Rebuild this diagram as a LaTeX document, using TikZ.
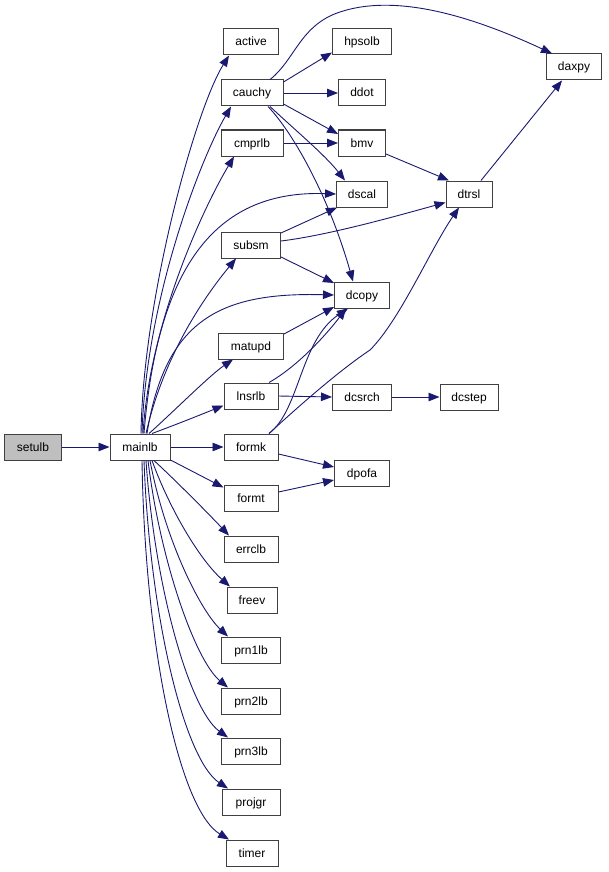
\documentclass[tikz,border=0pt]{standalone}
\usepackage{fontspec}
\setmainfont{Liberation Sans}
\usetikzlibrary{arrows.meta}
\definecolor{edgecol}{HTML}{191970}
\definecolor{bordercol}{HTML}{404040}
\definecolor{rootfill}{HTML}{BFBFBF}
\begin{document}
\begin{tikzpicture}[x=1pt,y=-1pt,
  fn/.style={draw=bordercol, line width=1pt, fill=white, rectangle, minimum height=26pt, inner sep=0pt, text height=10pt, text depth=2pt, font=\fontsize{12}{14}\selectfont},
  e/.style={draw=edgecol, line width=0.9pt, -{Triangle[length=11pt,width=8.5pt]}}]
\useasboundingbox (0,0) rectangle (608,872);
% nodes
\node[fn, fill=rootfill, minimum width=57pt] (setulb) at (33,447) {setulb};
\node[fn, minimum width=60pt] (mainlb) at (140,447) {mainlb};
\node[fn, minimum width=55pt] (active) at (251,42) {active};
\node[fn, minimum width=62pt] (cauchy) at (252,93) {cauchy};
\node[fn, minimum width=62pt] (cmprlb) at (252,143) {cmprlb};
\node[fn, minimum width=59pt] (subsm) at (251,245) {subsm};
\node[fn, minimum width=65pt] (matupd) at (251,346) {matupd};
\node[fn, minimum width=54pt] (lnsrlb) at (251,396) {lnsrlb};
\node[fn, minimum width=54pt] (formk) at (251,447) {formk};
\node[fn, minimum width=54pt] (formt) at (251,498) {formt};
\node[fn, minimum width=54pt] (errclb) at (251,549) {errclb};
\node[fn, minimum width=50pt] (freev) at (252,600) {freev};
\node[fn, minimum width=59pt] (prn1lb) at (251,650) {prn1lb};
\node[fn, minimum width=59pt] (prn2lb) at (251,701) {prn2lb};
\node[fn, minimum width=59pt] (prn3lb) at (251,751) {prn3lb};
\node[fn, minimum width=58pt] (projgr) at (251,802) {projgr};
\node[fn, minimum width=52pt] (timer) at (252,853) {timer};
\node[fn, minimum width=59pt] (hpsolb) at (362,42) {hpsolb};
\node[fn, minimum width=47pt] (ddot) at (362,93) {ddot};
\node[fn, minimum width=47pt] (bmv) at (362,143) {bmv};
\node[fn, minimum width=51pt] (dscal) at (362,194) {dscal};
\node[fn, minimum width=55pt] (dcopy) at (362,295) {dcopy};
\node[fn, minimum width=59pt] (dcsrch) at (362,397) {dcsrch};
\node[fn, minimum width=55pt] (dpofa) at (362,473) {dpofa};
\node[fn, minimum width=46pt] (dtrsl) at (469,194) {dtrsl};
\node[fn, minimum width=58pt] (dcstep) at (469,397) {dcstep};
\node[fn, minimum width=55pt] (daxpy) at (574,67) {daxpy};
% edges
\draw[e] (setulb.east) -- (mainlb.west);
\draw[e] ([xshift=1]mainlb.north) .. controls (143,300) and (195,110) .. ([xshift=-22]active.south);
\draw[e] ([xshift=2]mainlb.north) .. controls (146,300) and (200,160) .. ([xshift=-21]cauchy.south);
\draw[e] ([xshift=3]mainlb.north) .. controls (150,320) and (205,205) .. ([xshift=-18]cmprlb.south);
\draw[e] ([xshift=4]mainlb.north) .. controls (158,260) and (220,190) .. (dscal.west);
\draw[e] ([xshift=6]mainlb.north) .. controls (165,350) and (210,290) .. ([xshift=-15]subsm.south);
\draw[e] ([xshift=7]mainlb.north) .. controls (165,320) and (220,292) .. (dcopy.west);
\draw[e] ([xshift=9]mainlb.north) .. controls (170,415) and (210,375) .. ([xshift=-18]matupd.south);
\draw[e] ([xshift=12]mainlb.north) .. controls (175,425) and (200,415) .. ([yshift=4]lnsrlb.south west);
\draw[e] (mainlb.east) -- (formk.west);
\draw[e] ([yshift=-13]mainlb.east) -- ([yshift=-3]formt.north west);
\draw[e] ([xshift=14]mainlb.south) .. controls (175,480) and (205,510) .. ([xshift=-22]errclb.north);
\draw[e] ([xshift=12]mainlb.south) .. controls (170,510) and (200,560) .. ([xshift=-22]freev.north);
\draw[e] ([xshift=10]mainlb.south) .. controls (165,540) and (200,610) .. ([xshift=-23]prn1lb.north);
\draw[e] ([xshift=8]mainlb.south) .. controls (160,560) and (195,660) .. ([xshift=-23]prn2lb.north);
\draw[e] ([xshift=6]mainlb.south) .. controls (155,590) and (190,710) .. ([xshift=-23]prn3lb.north);
\draw[e] ([xshift=4]mainlb.south) .. controls (150,620) and (185,760) .. ([xshift=-23]projgr.north);
\draw[e] ([xshift=2]mainlb.south) .. controls (145,650) and (180,810) .. ([xshift=-23]timer.north);
% cauchy
\draw[e] ([xshift=18]cauchy.north) .. controls (295,60) and (300,25) .. (340,12) .. controls (400,-8) and (480,20) .. ([xshift=-22]daxpy.north);
\draw[e] ([yshift=11]cauchy.east) -- ([yshift=3]hpsolb.south west);
\draw[e] (cauchy.east) -- (ddot.west);
\draw[e] ([yshift=-11]cauchy.east) -- ([yshift=9]bmv.west);
\draw[e] ([xshift=18]cauchy.south) .. controls (295,130) and (325,155) .. ([xshift=-17]dscal.north);
\draw[e] ([xshift=16]cauchy.south) .. controls (295,135) and (330,200) .. ([xshift=-9]dcopy.north);
\draw[e] (cmprlb.east) -- (bmv.west);
\draw[e] ([yshift=-11]bmv.east) -- ([xshift=-20]dtrsl.north);
\draw[e] ([xshift=12]dtrsl.north) -- ([xshift=-12]daxpy.south);
% subsm
\draw[e] ([yshift=12]subsm.east) -- ([xshift=-25]dscal.south);
\draw[e] ([yshift=4]subsm.east) .. controls (330,235) and (400,215) .. ([yshift=5]dtrsl.south west);
\draw[e] ([yshift=-12]subsm.east) -- ([yshift=12]dcopy.west);
% to dcopy
\draw[e] ([yshift=12]matupd.east) -- ([yshift=-12]dcopy.west);
\draw[e] ([xshift=18]lnsrlb.north) .. controls (300,365) and (330,330) .. ([xshift=-16]dcopy.south);
\draw[e] ([xshift=18]formk.north) .. controls (300,410) and (300,340) .. ([xshift=-14]dcopy.south);
\draw[e] ([xshift=18]formk.north) .. controls (300,405) and (340,370) .. (370,350) .. controls (400,320) and (430,250) .. ([xshift=-10]dtrsl.south);
\draw[e] (lnsrlb.east) -- (dcsrch.west);
\draw[e] (dcsrch.east) -- (dcstep.west);
\draw[e] ([yshift=-7]formk.east) -- ([yshift=6]dpofa.west);
\draw[e] ([yshift=6]formt.east) -- ([yshift=-7]dpofa.west);
\end{tikzpicture}
\end{document}
